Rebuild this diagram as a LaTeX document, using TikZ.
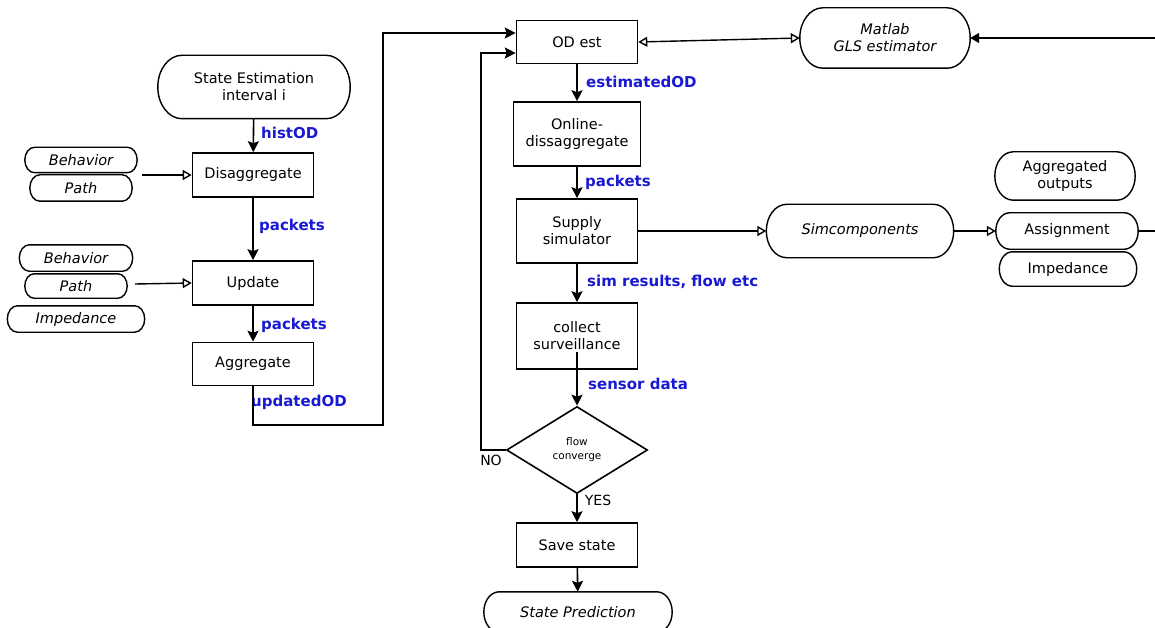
\documentclass[tikz,border=0pt]{standalone}
\usepackage{fontspec}
\setmainfont{DejaVu Sans}
\usetikzlibrary{shapes.geometric,arrows.meta,calc}
\definecolor{lblblue}{RGB}{25,25,210}
\tikzset{
  every node/.style={font=\fontsize{14.5}{17}\selectfont, inner sep=1pt},
  box/.style={draw, line width=1.6pt, rectangle, align=center},
  stad/.style={rectangle, align=center},
  stadline/.style={line width=1.4pt},
  itstad/.style={stad, font=\fontsize{14.5}{17}\selectfont\itshape},
  lbl/.style={anchor=west, text=lblblue, font=\fontsize{15}{18}\selectfont\bfseries},
  plain/.style={font=\fontsize{14}{16}\selectfont},
  arr/.style={line width=1.6pt, -{Stealth[length=11pt,width=11pt,inset=2pt]}},
  oarr/.style={line width=1.4pt, -{Triangle[open,length=9pt,width=10pt]}},
}
\begin{document}
\begin{tikzpicture}[x=1pt,y=-1pt]
\useasboundingbox (0,0) rectangle (1155,628);
% left column
\node[stad, minimum width=192, minimum height=63] (start) at (254,87) {State Estimation\\interval i};
\node[box, minimum width=121, minimum height=44] (dis) at (253,175) {Disaggregate};
\node[box, minimum width=121, minimum height=44] (upd) at (253,283) {Update};
\node[box, minimum width=121, minimum height=43] (agg) at (253,364) {Aggregate};
\node[itstad, minimum width=112, minimum height=25] (beha) at (81,160) {Behavior};
\node[itstad, minimum width=102, minimum height=26] (patha) at (81,188) {Path};
\node[itstad, minimum width=113, minimum height=26] (behb) at (76,258) {Behavior};
\node[itstad, minimum width=102, minimum height=24] (pathb) at (76,286) {Path};
\node[itstad, minimum width=137, minimum height=26] (impa) at (76,319) {Impedance};
\coordinate (ina) at (142,175);
\coordinate (inb) at (135,284);
% middle column
\node[box, minimum width=121, minimum height=43] (odest) at (577,42) {OD est};
\node[box, minimum width=127, minimum height=64] (online) at (577,134) {Online-\\dissaggregate};
\node[box, minimum width=121, minimum height=64] (supply) at (577,231) {Supply\\simulator};
\node[box, minimum width=121, minimum height=66] (collect) at (577,336) {collect\\surveillance};
\node[draw, line width=1.6pt, diamond, minimum width=141, minimum height=87, inner sep=0pt, align=center,
      font=\fontsize{10.5}{14}\selectfont] (conv) at (577,450) {flow\\converge};
\node[box, minimum width=121, minimum height=44] (save) at (577,545) {Save state};
\node[itstad, minimum width=188, minimum height=40] (pred) at (578,612) {State Prediction};
% right side
\node[itstad, minimum width=170, minimum height=60] (matlab) at (885,38) {Matlab\\GLS estimator};
\node[itstad, minimum width=187, minimum height=53] (simc) at (860,231) {Simcomponents};
\node[stad, minimum width=140, minimum height=48] (aggout) at (1065,176) {Aggregated\\outputs};
\node[stad, minimum width=142, minimum height=36] (assign) at (1067,231) {Assignment};
\node[stad, minimum width=137, minimum height=34] (impd) at (1068,269) {Impedance};
% stadium outlines (elliptic end caps)
\foreach \nd in {start,beha,patha,behb,pathb,impa,pred,matlab,simc,aggout,assign,impd} {
  \draw[stadline]
    let \p1=(\nd.north west), \p2=(\nd.south east),
        \n1={(\y1-\y2)/2}, \n2={0.76*(\y1-\y2)/2} in
    (\x1+\n2,\y1) -- (\x2-\n2,\y1)
    arc[start angle=90, end angle=-90, x radius=\n2, y radius=\n1]
    -- (\x1+\n2,\y2)
    arc[start angle=270, end angle=90, x radius=\n2, y radius=\n1] -- cycle;
}
\coordinate (ra) at (1162,231);
\coordinate (rb) at (1162,38);
\coordinate (ua) at (383,425);
\coordinate (ub) at (383,33);
\coordinate (na) at (481,450);
\coordinate (nb) at (481,53);
% labels
\node[lbl] (l1) at (260,133) {histOD};
\node[lbl] (l2) at (258,226) {packets};
\node[lbl] (l3) at (260,325) {packets};
\node[lbl] (l4) at (250,402) {updatedOD};
\node[lbl] (l5) at (585,82) {estimatedOD};
\node[lbl] (l6) at (584,182) {packets};
\node[lbl] (l7) at (586,282) {sim results, flow etc};
\node[lbl] (l8) at (587,384) {sensor data};
\node[plain] (no) at (491,460) {NO};
\node[plain] (yes) at (598,500) {YES};
% connectors
\draw[arr] (start) -- (dis);
\draw[arr] (dis) -- (upd);
\draw[arr] (upd) -- (agg);
\draw[oarr] (ina) -- (dis.west);
\draw[oarr] (inb) -- (upd.west);
\draw[arr] (agg.south) |- (ua) -- (ub) -- ([yshift=9pt]odest.west);
\draw[arr] (odest) -- (online);
\draw[arr] (online) -- (supply);
\draw[arr] (supply) -- (collect);
\draw[arr] ([yshift=-16pt]collect.center) -- (conv.north);
\draw[arr] (conv.south) -- (save);
\draw[arr] (save) -- (pred);
\draw[arr] (conv.west) -- (na) -- (nb) -- ([yshift=-11pt]odest.west);
\draw[line width=1.4pt, {Triangle[open,length=9pt,width=10pt]}-{Triangle[open,length=9pt,width=10pt]}] (odest.east) -- (matlab.west);
\draw[oarr] (supply.east) -- (simc.west);
\draw[oarr] (simc.east) -- (assign.west);
\draw[line width=1.4pt, -{Triangle[length=9pt,width=10pt]}] (assign.east) -- (ra) -- (rb) -- (matlab.east);
\end{tikzpicture}
\end{document}
